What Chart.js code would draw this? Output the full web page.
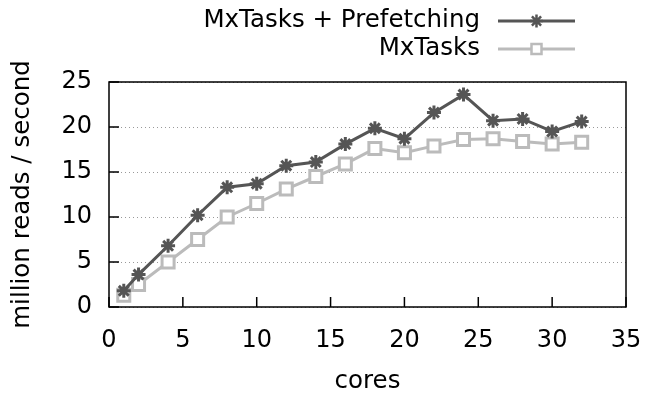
<!DOCTYPE html>
<html>
<head>
<meta charset="utf-8">
<script src="https://cdn.jsdelivr.net/npm/chart.js@4"></script>
<style>
  html, body { margin: 0; padding: 0; background: #fff; }
  #wrap { width: 646px; height: 396px; }
</style>
</head>
<body>
<div id="wrap"><canvas id="myChart"></canvas></div>
<script>
const cores = [1, 2, 4, 6, 8, 10, 12, 14, 16, 18, 20, 22, 24, 26, 28, 30, 32];
const prefetching = [1.8, 3.6, 6.8, 10.2, 13.3, 13.7, 15.7, 16.1, 18.1, 19.85, 18.7, 21.6, 23.6, 20.7, 20.9, 19.5, 20.6];
const mxtasks = [1.3, 2.5, 5.0, 7.5, 10.0, 11.5, 13.1, 14.5, 15.9, 17.6, 17.15, 17.9, 18.6, 18.7, 18.4, 18.1, 18.3];
const xTicks = [0, 5, 10, 15, 20, 25, 30, 35];
const yTicks = [0, 5, 10, 15, 20, 25];

const FONT = "'DejaVu Sans', sans-serif";

// frame, inward ticks and gnuplot-like legend
const frameAndLegend = {
  id: 'frameAndLegend',
  afterDraw(chart) {
    const { ctx, chartArea: a, scales } = chart;
    ctx.save();
    ctx.strokeStyle = '#000';
    ctx.lineWidth = 1.5;
    ctx.setLineDash([]);
    ctx.beginPath();
    xTicks.forEach(v => {
      const x = scales.x.getPixelForValue(v);
      ctx.moveTo(x, a.bottom);
      ctx.lineTo(x, a.bottom - 10);
    });
    yTicks.forEach(v => {
      const y = scales.y.getPixelForValue(v);
      ctx.moveTo(a.left, y);
      ctx.lineTo(a.left + 10, y);
    });
    ctx.stroke();
    ctx.strokeRect(a.left, a.top, a.right - a.left, a.bottom - a.top);

    // legend
    ctx.font = '24.5px ' + FONT;
    ctx.textAlign = 'right';
    ctx.textBaseline = 'middle';
    chart.data.datasets.forEach((ds, i) => {
      const y = 21 + i * 28;
      const mx = 536.5;
      ctx.fillStyle = '#000';
      ctx.fillText(ds.label, 480, y);
      ctx.strokeStyle = ds.borderColor;
      ctx.lineWidth = 3;
      ctx.beginPath();
      ctx.moveTo(498, y);
      ctx.lineTo(575, y);
      ctx.stroke();
      ctx.fillStyle = '#fff';
      ctx.lineWidth = 2.5;
      if (ds.pointStyle === 'rect') {
        const s = 5;
        ctx.fillRect(mx - s, y - s, 2 * s, 2 * s);
        ctx.strokeRect(mx - s, y - s, 2 * s, 2 * s);
      } else {
        ctx.beginPath();
        const r = 6.5;
        for (let k = 0; k < 4; k++) {
          const ang = k * Math.PI / 4;
          ctx.moveTo(mx - Math.cos(ang) * r, y - Math.sin(ang) * r);
          ctx.lineTo(mx + Math.cos(ang) * r, y + Math.sin(ang) * r);
        }
        ctx.stroke();
      }
    });
    ctx.restore();
  }
};

const ctx = document.getElementById('myChart');
new Chart(ctx, {
  type: 'line',
  data: {
    datasets: [{
      label: 'MxTasks + Prefetching',
      data: cores.map((c, i) => ({ x: c, y: prefetching[i] })),
      borderColor: '#555555',
      backgroundColor: '#555555',
      borderWidth: 3,
      pointStyle: 'star',
      pointRadius: 7,
      pointBorderWidth: 3,
      pointHoverRadius: 7,
      fill: false
    }, {
      label: 'MxTasks',
      data: cores.map((c, i) => ({ x: c, y: mxtasks[i] })),
      borderColor: '#bbbbbb',
      backgroundColor: '#ffffff',
      borderWidth: 3,
      pointStyle: 'rect',
      pointRadius: 8.5,
      pointBorderWidth: 3,
      pointHoverRadius: 8.5,
      fill: false
    }]
  },
  options: {
    responsive: true,
    maintainAspectRatio: false,
    animation: false,
    layout: { padding: { top: 82, right: 20, left: 0, bottom: 0 } },
    plugins: {
      legend: { display: false },
      tooltip: { enabled: false }
    },
    scales: {
      x: {
        type: 'linear',
        min: 0,
        max: 35,
        afterBuildTicks: s => { s.ticks = xTicks.map(v => ({ value: v })); },
        afterFit: s => { s.height = 89; s.paddingLeft = 0; s.paddingRight = 0; },
        grid: { display: false, drawTicks: false },
        border: { display: false },
        ticks: {
          color: '#000',
          padding: 19,
          font: { family: FONT, size: 24 }
        },
        title: {
          display: true,
          text: 'cores',
          color: '#000',
          padding: { top: 12, bottom: 0 },
          font: { family: FONT, size: 24.5 }
        }
      },
      y: {
        min: 0,
        max: 25,
        afterBuildTicks: s => { s.ticks = yTicks.map(v => ({ value: v })); },
        afterFit: s => { s.width = 109; s.paddingTop = 0; s.paddingBottom = 0; },
        grid: {
          color: '#999999',
          lineWidth: 1,
          drawTicks: false
        },
        border: { display: false, dash: [1, 3] },
        ticks: {
          color: '#000',
          padding: 17,
          font: { family: FONT, size: 24 }
        },
        title: {
          display: true,
          text: 'million reads / second',
          color: '#000',
          padding: { top: 8, bottom: 4 },
          font: { family: FONT, size: 24.5 }
        }
      }
    }
  },
  plugins: [frameAndLegend]
});
</script>
</body>
</html>
